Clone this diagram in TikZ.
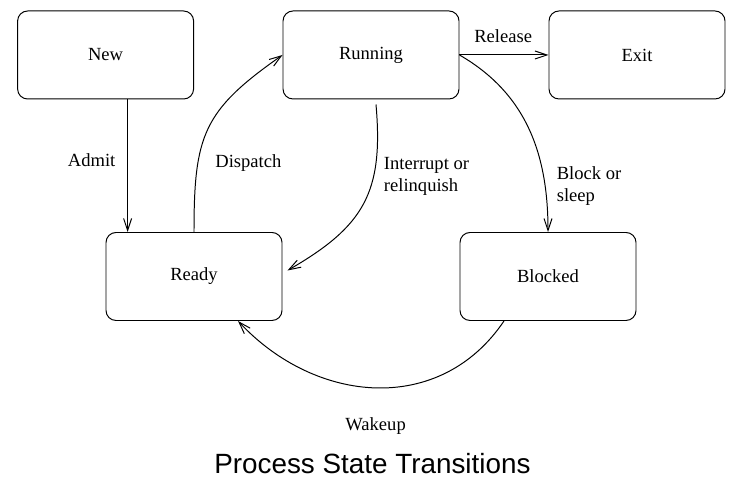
\documentclass[tikz,border=0pt]{standalone}
\usepackage{fontspec}
\setmainfont{Liberation Serif}
\newfontfamily\headfont{Liberation Sans}
\usetikzlibrary{arrows.meta}
\tikzset{%
    state/.style={draw, rounded corners=0.25cm, minimum width=4.4cm,
    	minimum height=2.2cm, font=\fontsize{13.2}{15.6}\selectfont},
    tag/.style={font=\fontsize{13.2}{15.6}\selectfont, align=left}
}

\begin{document}
\begin{tikzpicture}[line width=0.7pt, >={Straight Barb[length=3mm, width=2mm]}]
  \useasboundingbox (0cm, 0cm) rectangle (18.325cm, 12.1cm);

  \node (new) [state] at (2.64cm, 10.725cm) {New};
  \node (running) [state] at (9.275cm, 10.725cm) {Running};
  \node (exit) [state] at (15.925cm, 10.725cm) {Exit};
  \node (ready) [state] at (4.85cm, 5.1875cm) {Ready};
  \node (blocked) [state] at (13.7cm, 5.1875cm) {Blocked};

  \node (admit) [tag] at (2.29cm, 8.1cm) {Admit};
  \node (dispatch) [tag] at (6.21cm, 8.02cm) {Dispatch};
  \node (interrupt) [tag, anchor=west] at (9.47cm, 7.68cm) {Interrupt or\\relinquish};
  \node (block) [tag, anchor=west] at (13.79cm, 7.46cm) {Block or\\sleep};
  \node (release) [tag] at (12.58cm, 11.2cm) {Release};
  \node (wakeup) [tag] at (9.39cm, 1.46cm) {Wakeup};
  \node (title) [font=\headfont\fontsize{19.8}{24}\selectfont] at (9.31cm, 0.52cm)
    {Process State Transitions};

  \draw ([xshift=0.55cm]new.south) edge[->] ([xshift=0.55cm]new.south |- ready.north);
  \draw (running.east) edge[->] (exit.west);

  \draw (ready.north) edge[->, out=90, in=-145, looseness=1.25] (running.west);
  \draw ([xshift=0.125cm, yshift=-0.125cm]running.south)
    edge[->, out=-85, in=30, looseness=1.2] ([xshift=0.125cm, yshift=0.15cm]ready.east);
  \draw (running.east) edge[->, out=-30, in=90] (blocked.north);
  \draw ([xshift=-1.1cm]blocked.south)
    edge[->, out=-124, in=-47, looseness=1.1] ([xshift=1.1cm]ready.south);

\end{tikzpicture}
\end{document}
